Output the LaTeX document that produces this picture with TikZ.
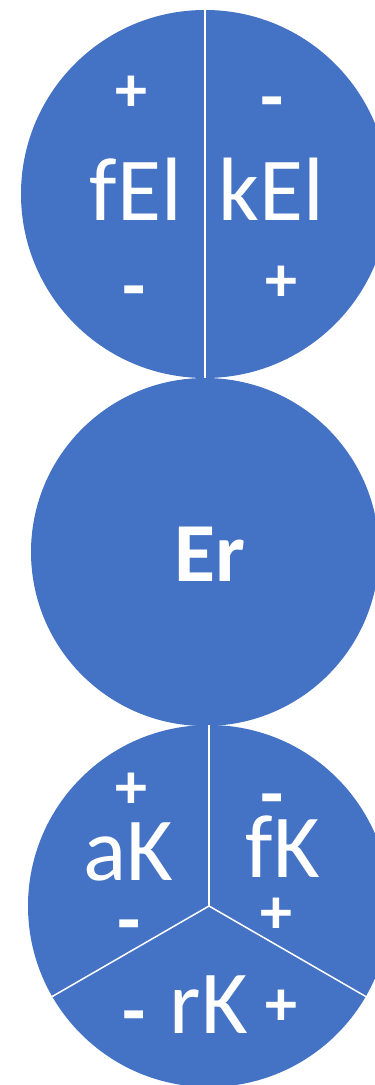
\documentclass[tikz,border=0pt]{standalone}
\usepackage{fontspec}
\setmainfont{Carlito}
\definecolor{diskblue}{HTML}{4472C4}
\begin{document}
\begin{tikzpicture}[x=1pt, y=-1pt,
  disk/.style={circle, fill=diskblue, inner sep=0pt, minimum size=#1},
  split/.style={draw=white, line width=#1},
  big/.style={text=white, anchor=base, inner sep=0pt, font=\fontsize{90}{90}\selectfont},
  bigbold/.style={text=white, anchor=base, inner sep=0pt, font=\bfseries\fontsize{84}{84}\selectfont},
  sign/.style={text=white, inner sep=0pt, font=\bfseries\fontsize{64}{64}\selectfont},
  minus/.style={text=white, inner sep=0pt, yshift=-12pt, font=\bfseries\fontsize{76}{76}\selectfont}
]
\useasboundingbox (0,0) rectangle (375,1085);
\clip (0,0) rectangle (375,1085);
% discs
\node[disk=368pt] (elDisk) at (205,194) {};
\node[disk=348pt] (erDisk) at (205,552) {};
\node[disk=362pt] (kDisk) at (209,906) {};
% dividing lines
\draw[split=2pt] (elDisk.north) -- (elDisk.south);
\draw[split=1.5pt] (kDisk.center) -- (kDisk.north);
\draw[split=1.5pt] (kDisk.center) -- (kDisk.210);
\draw[split=1.5pt] (kDisk.center) -- (kDisk.330);
% labels
\node[big] (fEl) at (136,220) {fEl};
\node[big] (kEl) at (271,220) {kEl};
\node[bigbold] (er) at (210,581) {Er};
\node[big] (aK) at (128,880) {aK};
\node[big] (fK) at (283,877) {fK};
\node[big] (rK) at (209,1033) {rK};
% signs
\node[sign] (fElTop) at (131,94) {+};
\node[minus] (kElTop) at (272,98) {-};
\node[minus] (fElBot) at (134,287) {-};
\node[sign] (kElBot) at (281,284) {+};
\node[sign] (aKTop) at (131,791) {+};
\node[minus] (fKTop) at (272,795) {-};
\node[minus] (aKBot) at (129,921) {-};
\node[sign] (fKBot) at (276,916) {+};
\node[minus] (rKLeft) at (134,1012) {-};
\node[sign] (rKRight) at (281,1008) {+};
\end{tikzpicture}
\end{document}
